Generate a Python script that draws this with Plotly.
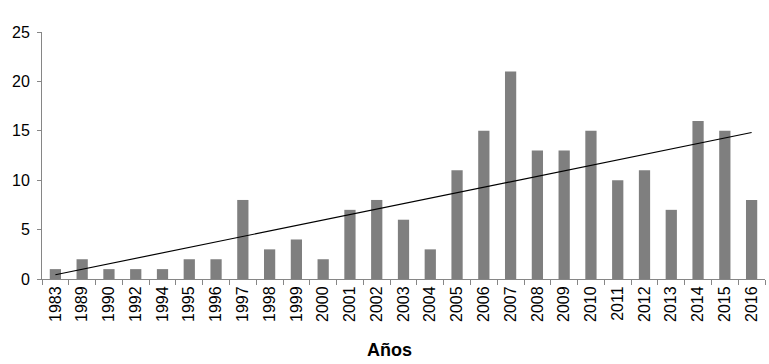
import numpy as np
import plotly.graph_objects as go

years = ["1983", "1989", "1990", "1992", "1994", "1995", "1996", "1997", "1998", "1999",
         "2000", "2001", "2002", "2003", "2004", "2005", "2006", "2007", "2008", "2009",
         "2010", "2011", "2012", "2013", "2014", "2015", "2016"]
counts = [1, 2, 1, 1, 1, 2, 2, 8, 3, 4, 2, 7, 8, 6, 3, 11, 15, 21, 13, 13, 15, 10, 11, 7, 16, 15, 8]

idx = np.arange(len(counts))
slope, intercept = np.polyfit(idx + 1, counts, 1)
trend = slope * (idx + 1) + intercept

fig = go.Figure()
fig.add_trace(go.Bar(x=years, y=counts, marker=dict(color="#7f7f7f", line=dict(width=0)),
                     width=0.42, showlegend=False))
fig.add_trace(go.Scatter(x=years, y=trend, mode="lines", line=dict(color="black", width=1.2),
                         showlegend=False))

font = "Liberation Sans, Arial, sans-serif"
fig.update_layout(
    width=769, height=364,
    margin=dict(l=42, r=4, t=32, b=85),
    plot_bgcolor="white", paper_bgcolor="white",
    font=dict(family=font, size=16, color="black"),
    xaxis=dict(type="category", tickangle=-90, showline=True, linecolor="#868686", linewidth=1,
               ticks="outside", ticklen=5, tickcolor="#868686", tickson="boundaries",
               showgrid=False, tickfont=dict(size=16), automargin=False),
    yaxis=dict(range=[0, 25], tickvals=[0, 5, 10, 15, 20, 25], showline=True, linecolor="#868686",
               linewidth=1, ticks="outside", ticklen=4, tickcolor="#868686", showgrid=False,
               zeroline=False, tickfont=dict(size=16), automargin=False, ticklabelstandoff=4),
    annotations=[dict(text="<b>Años</b>", x=0.481, y=-0.287, xref="paper", yref="paper",
                      xanchor="center", yanchor="middle", showarrow=False,
                      font=dict(size=18, family=font, color="black"))],
)
fig.write_html("out.html", config={"displayModeBar": False},
               post_script="document.body.style.margin='0';document.body.style.padding='0';")
